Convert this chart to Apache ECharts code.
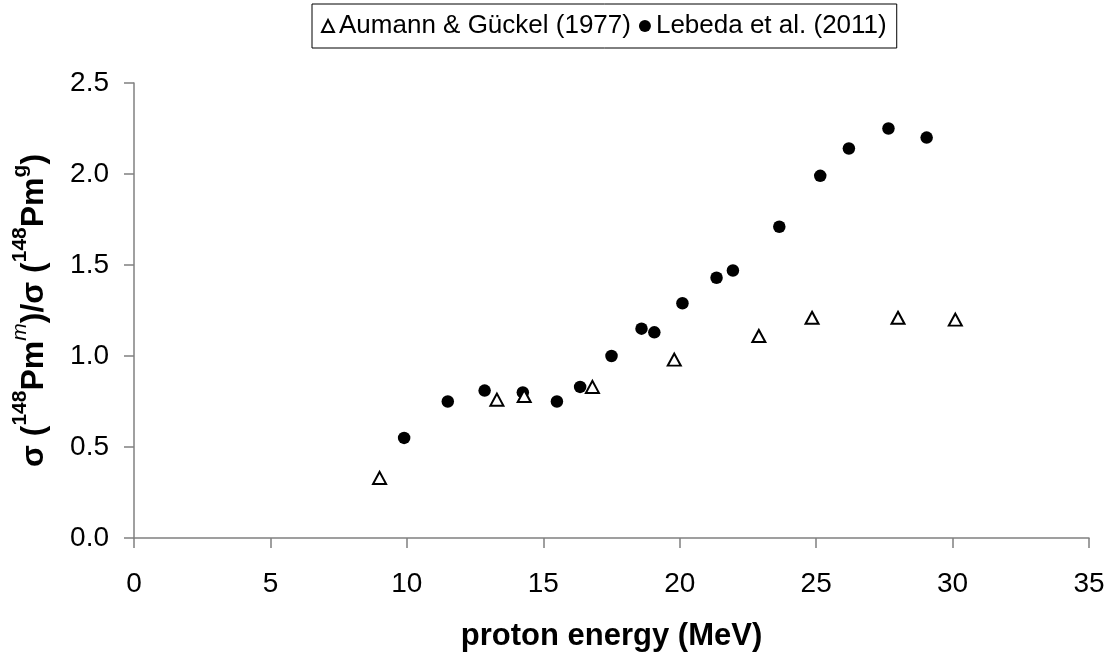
<!DOCTYPE html>
<html>
<head>
<meta charset="utf-8">
<script src="https://cdn.jsdelivr.net/npm/echarts@6/dist/echarts.min.js"></script>
<style>html,body{margin:0;padding:0;background:#fff}#c{width:1112px;height:659px}</style>
</head>
<body>
<div id="c"></div>
<script>
// Data
const aumannName = 'Aumann & Gückel (1977)';
const lebedaName = 'Lebeda et al. (2011)';
const aumannEnergy = [9.0, 13.3, 14.3, 16.8, 19.8, 22.9, 24.85, 28.0, 30.1];
const aumannRatio  = [0.33, 0.76, 0.78, 0.83, 0.98, 1.11, 1.21, 1.21, 1.20];
const lebedaEnergy = [9.9, 11.5, 12.85, 14.25, 15.5, 16.35, 17.5, 18.6, 19.07, 20.1, 21.35, 21.95, 23.65, 25.15, 26.2, 27.65, 29.05];
const lebedaRatio  = [0.55, 0.75, 0.81, 0.80, 0.75, 0.83, 1.00, 1.15, 1.13, 1.29, 1.43, 1.47, 1.71, 1.99, 2.14, 2.25, 2.20];
const xTicks = [0, 5, 10, 15, 20, 25, 30, 35];
const yTicks = ['0.0', '0.5', '1.0', '1.5', '2.0', '2.5'];

const font = '"Liberation Sans", Arial, sans-serif';
const axisGray = '#808080';
const chart = echarts.init(document.getElementById('c'), null, {renderer: 'canvas'});
chart.setOption({
  backgroundColor: '#fff',
  animation: false,
  textStyle: {fontFamily: font, color: '#000'},
  legend: {
    top: 4, left: 312,
    borderColor: '#000', borderWidth: 1,
    padding: [9, 10, 9, 9],
    itemWidth: 12, itemHeight: 12, itemGap: 8,
    textStyle: {fontFamily: font, fontSize: 26, color: '#000'},
    data: [aumannName, lebedaName]
  },
  grid: {left: 134, right: 23, top: 83, bottom: 121, containLabel: false},
  xAxis: {
    type: 'value', min: xTicks[0], max: xTicks[xTicks.length - 1], interval: 5,
    name: 'proton energy (MeV)', nameLocation: 'middle', nameGap: 83,
    nameTextStyle: {fontFamily: font, fontSize: 31, fontWeight: 'bold', color: '#000'},
    axisLine: {show: true, lineStyle: {color: axisGray, width: 1.5}},
    axisTick: {show: true, inside: false, length: 10, lineStyle: {color: axisGray, width: 1.5}},
    axisLabel: {margin: 32, fontSize: 28, color: '#000', fontFamily: font},
    splitLine: {show: false}
  },
  yAxis: {
    type: 'value', min: 0, max: 2.5, interval: 0.5,
    name: '{b|σ (}{sup|148}{b|Pm}{supi|m}{b|)/σ (}{sup|148}{b|Pm}{sup|g}{b|)}',
    nameLocation: 'middle', nameGap: 84, nameRotate: 90,
    nameTextStyle: {
      fontFamily: font, color: '#000',
      rich: {
        b: {fontSize: 32, fontWeight: 'bold', fontFamily: font, color: '#000', lineHeight: 40, verticalAlign: 'bottom'},
        sup: {fontSize: 21, fontWeight: 'bold', fontFamily: font, color: '#000', lineHeight: 40, verticalAlign: 'top', padding: [0, 0, 16, 0]},
        supi: {fontSize: 21, fontStyle: 'italic', fontFamily: font, color: '#000', lineHeight: 40, verticalAlign: 'top', padding: [0, 0, 16, 0]}
      }
    },
    axisLine: {show: true, lineStyle: {color: axisGray, width: 1.5}},
    axisTick: {show: true, inside: false, length: 10, lineStyle: {color: axisGray, width: 1.5}},
    axisLabel: {margin: 25, fontSize: 28, color: '#000', fontFamily: font,
      formatter: v => yTicks[Math.round(v / 0.5)]},
    splitLine: {show: false}
  },
  series: [
    {
      name: aumannName, type: 'scatter',
      symbol: 'triangle', symbolSize: [13, 12],
      itemStyle: {color: '#fff', borderColor: '#000', borderWidth: 2, opacity: 1},
      data: aumannEnergy.map((x, i) => [x, aumannRatio[i]]),
      z: 3
    },
    {
      name: lebedaName, type: 'scatter',
      symbol: 'circle', symbolSize: 12.5,
      itemStyle: {color: '#000', opacity: 1},
      data: lebedaEnergy.map((x, i) => [x, lebedaRatio[i]]),
      z: 2
    }
  ]
});
</script>
</body>
</html>
